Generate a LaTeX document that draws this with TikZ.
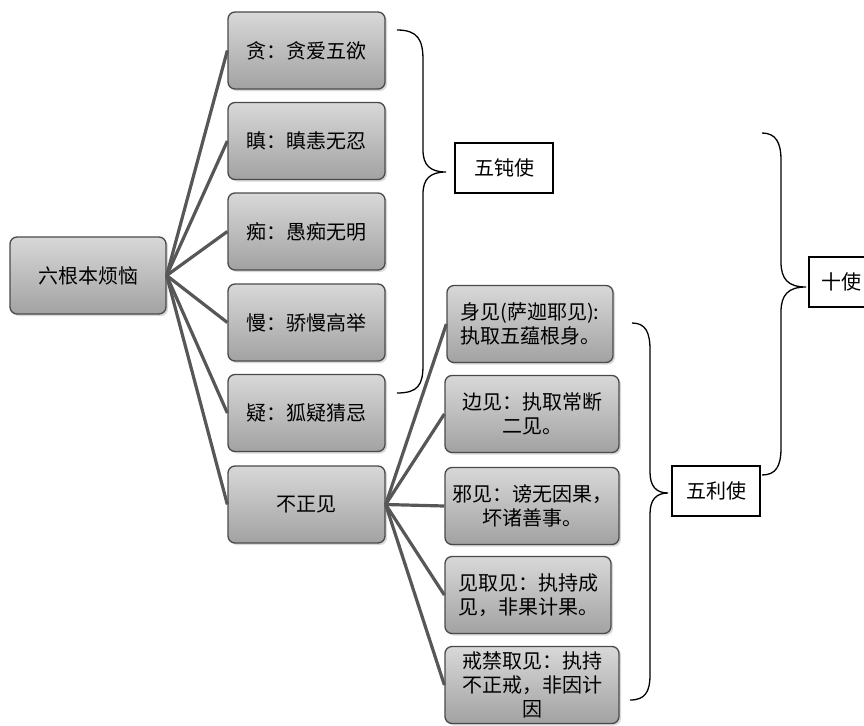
\documentclass[tikz,border=0pt]{standalone}
\usepackage{fontspec}
\newfontfamily\cjk{Noto Sans CJK SC}
\usetikzlibrary{positioning, shadows}
\definecolor{boxtop}{HTML}{D8D8D8}
\definecolor{boxbot}{HTML}{A2A2A2}
\definecolor{edgec}{HTML}{4A4A4A}
\definecolor{wirec}{HTML}{575757}

\begin{document}
\begin{tikzpicture}[x=1pt, y=-1pt,
    every node/.style={font=\cjk\fontsize{20}{24}\selectfont},
    gbox/.style={rectangle, rounded corners=7pt, draw=edgec, line width=1.3pt,
                 top color=boxtop, bottom color=boxbot, align=center,
                 drop shadow={opacity=0.3, shadow xshift=2pt, shadow yshift=-2pt},
                 minimum width=157pt, minimum height=77pt, inner sep=2pt},
    rbox/.style={gbox, minimum width=172pt},
    lbl/.style={rectangle, draw=black, line width=1.6pt, fill=white,
                minimum height=50pt, inner sep=4pt},
    wire/.style={draw=wirec, line width=3.2pt},
    brc/.style={draw=black, line width=1.3pt},
]
\clip (0,0) rectangle (864,725);

% root
\node[gbox, minimum width=156pt] (root) at (88, 275.5) {六根本烦恼};

% six root afflictions
\node[gbox] (tan)  at (306.5, 50.5)  {贪：贪爱五欲};
\node[gbox] (chen) at (306.5, 141)   {瞋：瞋恚无忍};
\node[gbox] (chi)  at (306.5, 231.5) {痴：愚痴无明};
\node[gbox] (man)  at (306.5, 322.5) {慢：骄慢高举};
\node[gbox] (yi)   at (306.5, 413)   {疑：狐疑猜忌};
\node[gbox] (bzj)  at (306.5, 504.5) {不正见};

% five wrong views
\node[rbox, minimum width=166pt] (shen) at (530, 324) {身见(萨迦耶见):\\执取五蕴根身。};
\node[rbox, minimum width=174pt] (bian) at (532, 414) {边见：执取常断\\二见。};
\node[rbox, minimum width=174pt] (xie)  at (532, 506) {邪见：谤无因果，\\坏诸善事。};
\node[rbox, minimum width=166pt] (jqj)  at (528, 595) {见取见：执持成\\见，非果计果。};
\node[rbox, minimum width=174pt] (jjqj) at (532, 685) {戒禁取见：执持\\不正戒，非因计\\因};

\foreach \n in {tan, chen, chi, man, yi, bzj}{
    \draw[wire] (root.east) -- (\n.west);
}
\foreach \n in {shen, bian, xie, jqj, jjqj}{
    \draw[wire] (bzj.east) -- (\n.west);
}

% groups
\node[lbl, minimum width=98pt] (dun) at (504, 168) {五钝使};
\node[lbl, minimum width=88pt] (li)  at (716, 491) {五利使};
\node[lbl, minimum width=64pt] (shi) at (841, 282) {十使};

\draw[brc] (397,30) .. controls (418,30) and (423,40) .. (423,60) -- (423,150)
    .. controls (423,165) and (430,172) .. (446,172)
    .. controls (430,172) and (423,179) .. (423,194) -- (423,365)
    .. controls (423,385) and (418,393) .. (397,393);
\draw[brc] (632,323) .. controls (646,323) and (650,333) .. (650,350) -- (650,472)
    .. controls (650,486) and (656,493) .. (668,493)
    .. controls (656,493) and (650,500) .. (650,514) -- (650,675)
    .. controls (650,692) and (645,700) .. (630,700);
\draw[brc] (762,133) .. controls (776,133) and (781,143) .. (781,160) -- (781,262)
    .. controls (781,279) and (788,287) .. (806,287)
    .. controls (788,287) and (781,295) .. (781,312) -- (781,448)
    .. controls (781,466) and (776,475) .. (762,475);
\end{tikzpicture}
\end{document}
